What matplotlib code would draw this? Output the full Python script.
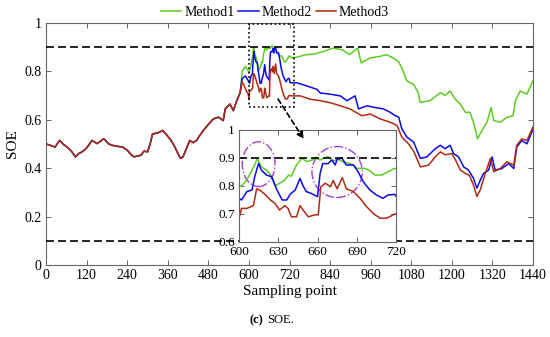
import numpy as np
import matplotlib
matplotlib.use('Agg')
import matplotlib.pyplot as plt
from matplotlib.patches import Rectangle, Ellipse

plt.rcParams['font.family'] = ['Liberation Serif', 'DejaVu Serif']

# shared part of the three SOE curves (all methods overlap before ~575)
x_common = [0, 10, 27, 40, 50, 62, 75, 87, 97, 107, 118, 126, 136, 151, 160, 171, 185, 196,
            210, 226, 241, 252, 261, 270, 281, 290, 300, 308, 315, 330, 345, 358, 370, 380,
            390, 398, 405, 415, 425, 435, 445, 455, 465, 480, 495, 510, 524, 530, 544, 554,
            564, 574]
y_common = [0.50, 0.495, 0.487, 0.514, 0.50, 0.487, 0.47, 0.446, 0.46, 0.467, 0.48, 0.494,
            0.514, 0.501, 0.51, 0.521, 0.50, 0.494, 0.49, 0.487, 0.473, 0.455, 0.446, 0.45,
            0.453, 0.47, 0.467, 0.50, 0.541, 0.545, 0.555, 0.535, 0.514, 0.49, 0.46, 0.44,
            0.446, 0.48, 0.514, 0.505, 0.514, 0.535, 0.555, 0.58, 0.603, 0.61, 0.596, 0.644,
            0.664, 0.637, 0.678, 0.711]

x_m1 = [580, 590, 598, 601, 605, 608, 612, 614, 617, 621, 625, 627.5, 631, 635, 638, 640,
        644, 648, 652, 656, 659, 662, 665, 668, 672, 676, 680, 684, 687, 690, 696, 700, 704,
        709, 714, 719, 728, 748, 768, 790, 818, 848, 877, 897, 922, 932, 957, 987, 1007, 1027,
        1042, 1052, 1067, 1087, 1101, 1106, 1136, 1166, 1180, 1195, 1210, 1225, 1240, 1254,
        1264, 1276, 1289, 1304, 1316, 1324, 1343, 1363, 1381, 1388, 1402, 1422, 1440]
y_m1 = [0.80, 0.82, 0.80, 0.798, 0.815, 0.839, 0.875, 0.899, 0.869, 0.857, 0.835, 0.80,
        0.81, 0.821, 0.839, 0.835, 0.875, 0.899, 0.887, 0.893, 0.899, 0.893, 0.899, 0.905,
        0.89, 0.895, 0.885, 0.881, 0.875, 0.863, 0.863, 0.855, 0.839, 0.839, 0.851, 0.863,
        0.854, 0.86, 0.868, 0.87, 0.88, 0.895, 0.888, 0.868, 0.895, 0.834, 0.854, 0.861,
        0.868, 0.854, 0.84, 0.814, 0.759, 0.746, 0.711, 0.671, 0.678, 0.711, 0.70, 0.718,
        0.684, 0.664, 0.63, 0.63, 0.589, 0.521, 0.555, 0.589, 0.65, 0.596, 0.589, 0.609,
        0.616, 0.678, 0.718, 0.705, 0.76]

x_m2 = [580, 590, 598, 600, 602, 606, 610, 612, 615, 617, 621, 625, 629, 633, 636.5, 639,
        643, 646.6, 649, 651.5, 655, 660, 662, 664, 668, 671, 673.5, 675, 678.6, 682, 687.5,
        691, 695, 700, 705, 710, 714, 719, 722, 742, 771, 801, 811, 840, 870, 890, 914, 924,
        949, 973, 998, 1018, 1033, 1043, 1052, 1067, 1087, 1107, 1126, 1151, 1166, 1180,
        1195, 1205, 1220, 1235, 1249, 1264, 1274, 1284, 1294, 1309, 1319, 1328, 1348, 1368,
        1383, 1392, 1407, 1422, 1440]
y_m2 = [0.77, 0.78, 0.76, 0.756, 0.75, 0.78, 0.786, 0.833, 0.881, 0.857, 0.839, 0.833,
        0.786, 0.75, 0.75, 0.77, 0.786, 0.827, 0.80, 0.78, 0.774, 0.762, 0.845, 0.88, 0.88,
        0.893, 0.875, 0.895, 0.90, 0.875, 0.875, 0.851, 0.815, 0.786, 0.768, 0.756, 0.768,
        0.77, 0.752, 0.752, 0.739, 0.725, 0.71, 0.705, 0.698, 0.678, 0.698, 0.644, 0.657,
        0.65, 0.644, 0.63, 0.616, 0.61, 0.562, 0.528, 0.507, 0.44, 0.446, 0.48, 0.494, 0.48,
        0.494, 0.46, 0.446, 0.405, 0.392, 0.358, 0.317, 0.35, 0.378, 0.392, 0.446, 0.392,
        0.398, 0.419, 0.398, 0.487, 0.514, 0.50, 0.56]

x_m3 = [580, 584, 592, 598, 600, 602, 606, 611, 613.5, 616, 620, 624, 627.5, 631, 635,
        637.5, 640, 644, 646.6, 649, 653, 658, 660.6, 662.5, 666, 670, 672, 675, 679, 682,
        687.5, 692.5, 697.6, 703, 708, 713, 719, 727, 752, 781, 811, 840, 870, 899, 934, 959,
        988, 1018, 1038, 1052, 1072, 1087, 1107, 1131, 1151, 1166, 1180, 1200, 1212, 1225,
        1240, 1252, 1264, 1274, 1284, 1299, 1314, 1324, 1343, 1363, 1383, 1392, 1407, 1422,
        1440]
y_m3 = [0.755, 0.746, 0.72, 0.705, 0.685, 0.72, 0.72, 0.73, 0.79, 0.785, 0.77, 0.75,
        0.738, 0.714, 0.73, 0.72, 0.69, 0.69, 0.73, 0.714, 0.69, 0.697, 0.697, 0.797, 0.81,
        0.797, 0.82, 0.79, 0.83, 0.79, 0.78, 0.756, 0.726, 0.70, 0.685, 0.685, 0.70, 0.698,
        0.698, 0.684, 0.678, 0.67, 0.657, 0.644, 0.616, 0.623, 0.603, 0.589, 0.576, 0.528,
        0.50, 0.47, 0.405, 0.412, 0.446, 0.467, 0.455, 0.46, 0.43, 0.392, 0.378, 0.37, 0.33,
        0.283, 0.31, 0.378, 0.44, 0.385, 0.398, 0.426, 0.412, 0.494, 0.521, 0.514, 0.57]

LABELS = ['Method1', 'Method2', 'Method3']
COLS = ['#5ccc22', '#0a0ae6', '#b22a12']
SERIES = [(x_common + x_m1, y_common + y_m1),
          (x_common + x_m2, y_common + y_m2),
          (x_common + x_m3, y_common + y_m3)]
LIMITS = [0.9, 0.1]
XTICKS = list(range(0, 1441, 120))
YTICKS = [0, 0.2, 0.4, 0.6, 0.8, 1]
YTLABS = ['0', '0.2', '0.4', '0.6', '0.8', '1']
IN_XTICKS = [600, 630, 660, 690, 720]
IN_YTICKS = [0.6, 0.7, 0.8, 0.9, 1]
IN_YTLABS = ['0.6', '0.7', '0.8', '0.9', '1']

SPINE = '#666666'
DASH = (0, (4.8, 2.4))


def frame(ax, size):
    for sp in ax.spines.values():
        sp.set_color(SPINE); sp.set_linewidth(0.8)
    ax.tick_params(direction='in', top=True, right=True, length=3.5, width=0.7,
                   color=SPINE, labelsize=size, labelcolor='black', pad=3)


fig = plt.figure(figsize=(5.5, 3.37), dpi=100)
fig.patch.set_facecolor('white')
ax = fig.add_axes([46/550, 1-265/337, 487/550, 242.3/337])
for (xs, ys), col, lab in zip(SERIES, COLS, LABELS):
    ax.plot(xs, ys, color=col, lw=1.1, label=lab)
for v in LIMITS:
    ax.axhline(v, color='k', lw=1.2, ls=DASH, zorder=5)
ax.set_xlim(0, 1440); ax.set_ylim(0, 1)
ax.set_xticks(XTICKS); ax.set_yticks(YTICKS); ax.set_yticklabels(YTLABS)
frame(ax, 10)
ax.set_xlabel('Sampling point', fontsize=11, labelpad=2)
ax.set_ylabel('SOE', fontsize=11, labelpad=4)

# zoom box
ax.add_patch(Rectangle((600, 0.653), 132, 0.34, fill=False, ec='k', lw=1.2, ls=':', zorder=6))

# inset
axi = fig.add_axes([239/550, 1-242/337, 157/550, 112/337])
axi.set_facecolor('white')
for (xs, ys), col in zip(SERIES, COLS):
    axi.plot(xs, ys, color=col, lw=1.1)
axi.axhline(0.9, color='k', lw=1.2, ls=DASH)
axi.set_xlim(600, 720); axi.set_ylim(0.6, 1)
axi.set_xticks(IN_XTICKS); axi.set_yticks(IN_YTICKS); axi.set_yticklabels(IN_YTLABS)
frame(axi, 9.5)
axi.add_patch(Ellipse((615, 0.878), 25, 0.16, fill=False, ec='#a040d0', lw=1.0, ls='-.'))
axi.add_patch(Ellipse((675, 0.85), 38.5, 0.182, fill=False, ec='#a040d0', lw=1.0, ls='-.'))

# dashed arrow from the box to the inset, drawn above the inset
axi.annotate('', xy=(762, 0.52), xycoords=ax.transData,
             xytext=(686, 0.685), textcoords=ax.transData, annotation_clip=False,
             arrowprops=dict(arrowstyle='-|>', ls=(0, (3, 2)), color='k', lw=1.2,
                             mutation_scale=10, shrinkA=0, shrinkB=0))

fig.legend(loc='center', bbox_to_anchor=(0.5, 0.964), ncol=3, frameon=False, fontsize=10,
           handlelength=1.45, handletextpad=0.2, columnspacing=0.3, borderpad=0)

fig.text(250/550, 0.05, '(c)', fontsize=9, fontweight='bold', ha='left', va='center')
fig.text(267/550, 0.05, 'SOE.', fontsize=9, ha='left', va='center')

fig.savefig('out.png', dpi=100, facecolor='white')
